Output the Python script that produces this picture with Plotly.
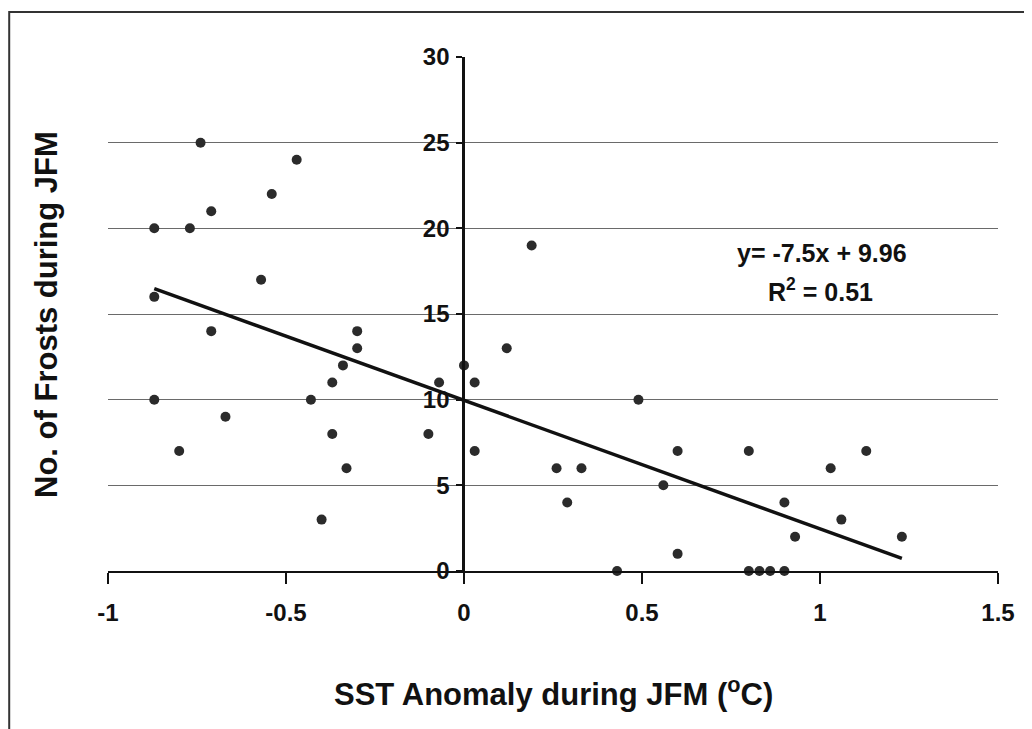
import plotly.graph_objects as go

# Data
sst_anomaly = [-0.87, -0.87, -0.87, -0.74, -0.77, -0.71, -0.71, -0.80, -0.67, -0.47,
               -0.54, -0.57, -0.30, -0.30, -0.34, -0.37, -0.43, -0.37, -0.33, -0.40,
               -0.10, -0.07, 0.00, 0.03, 0.03, 0.19, 0.12, 0.49, 0.26, 0.33,
               0.29, 0.43, 0.60, 0.80, 0.56, 0.90, 0.93, 0.60, 0.80, 0.83,
               0.86, 0.90, 1.03, 1.13, 1.06, 1.23]
frosts = [20, 16, 10, 25, 20, 21, 14, 7, 9, 24,
          22, 17, 14, 13, 12, 11, 10, 8, 6, 3,
          8, 11, 12, 11, 7, 19, 13, 10, 6, 6,
          4, 0, 7, 7, 5, 4, 2, 1, 0, 0,
          0, 0, 6, 7, 3, 2]

slope = -7.5
intercept = 9.96
r_squared = 0.51
trend_x = [min(sst_anomaly), max(sst_anomaly)]
trend_y = [slope * v + intercept for v in trend_x]

x_ticks = [-1, -0.5, 0, 0.5, 1, 1.5]
y_ticks = [0, 5, 10, 15, 20, 25, 30]

FONT = "Liberation Sans, Arial, sans-serif"

fig = go.Figure()
fig.add_trace(go.Scatter(
    x=trend_x, y=trend_y, mode="lines",
    line=dict(color="#111111", width=3.5), showlegend=False, hoverinfo="skip",
))
fig.add_trace(go.Scatter(
    x=sst_anomaly, y=frosts, mode="markers",
    marker=dict(color="#2b2b2b", size=10, line=dict(width=0)),
    cliponaxis=False, showlegend=False,
))

fig.update_layout(
    width=1032, height=729,
    margin=dict(l=100, r=42, t=49, b=166),
    paper_bgcolor="white", plot_bgcolor="white",
    font=dict(family=FONT, color="#111111"),
    xaxis=dict(
        range=[-1, 1.5], tickvals=x_ticks, ticktext=[f"{v:g}" for v in x_ticks],
        showgrid=False, zeroline=False,
        showline=True, linecolor="#111111", linewidth=2,
        ticks="outside", ticklen=11, tickwidth=2, tickcolor="#111111",
        ticklabelstandoff=8,
        tickfont=dict(size=24, family=FONT, weight="bold"),
    ),
    yaxis=dict(
        range=[0, 30], tickvals=y_ticks,
        anchor="free", position=0.399,
        showgrid=True, gridcolor="#6a6a6a", gridwidth=1,
        zeroline=False,
        showline=True, linecolor="#111111", linewidth=2.5,
        ticks="outside", ticklen=6, tickwidth=2, tickcolor="#111111",
        ticklabelstandoff=2,
        tickfont=dict(size=24, family=FONT, weight="bold"),
    ),
    shapes=[dict(type="rect", xref="paper", yref="paper",
                 x0=-0.111, x1=1.06, y0=-0.35, y1=1.0875,
                 line=dict(color="#333333", width=2), fillcolor="rgba(0,0,0,0)")],
    annotations=[
        dict(text="No. of Frosts during JFM", xref="paper", yref="paper",
             x=-0.0697, y=0.5, textangle=-90,
             showarrow=False, xanchor="center", yanchor="middle",
             font=dict(size=31, family=FONT, weight="bold")),
        dict(text="SST Anomaly during JFM (<sup>o</sup>C)", xref="paper", yref="paper",
             x=0.501, y=-0.235, showarrow=False, xanchor="center", yanchor="middle",
             font=dict(size=31, family=FONT, weight="bold")),
        dict(text=f"y= {slope}x + {intercept}", xref="x", yref="y",
             x=1.005, y=18.56, showarrow=False,
             font=dict(size=25, family=FONT, weight="bold")),
        dict(text=f"R<sup>2</sup> = {r_squared}", xref="x", yref="y",
             x=1.0, y=16.4, showarrow=False,
             font=dict(size=25, family=FONT, weight="bold")),
    ],
)

fig.write_html("out.html")
